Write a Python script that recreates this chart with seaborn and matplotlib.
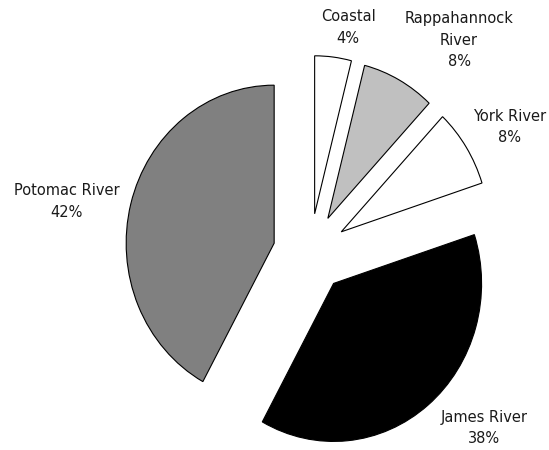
import matplotlib
matplotlib.use("Agg")
import matplotlib.pyplot as plt
import seaborn as sns

sns.set_theme(style="white")
plt.rcParams['font.family'] = ['DejaVu Sans']

categories = ["Coastal", "Rappahannock\nRiver", "York River", "James River", "Potomac River"]
shares = [4, 8, 8, 38, 42]
colors = ["#ffffff", "#c0c0c0", "#ffffff", "#000000", "#808080"]
explode = [0.25, 0.25, 0.25, 0.25, 0.25]
label_xy = [(0.257, 1.427), (1.007, 1.348), (1.351, 0.797), (1.176, -1.108), (-1.645, 0.326)]

fig = plt.figure(figsize=(5.49, 4.5), dpi=100)
ax = fig.add_axes([0, 0, 1, 1])
wedges, _ = ax.pie(shares, colors=colors, explode=explode, startangle=90,
                   counterclock=False,
                   wedgeprops=dict(edgecolor="black", linewidth=0.8))
for cat, val, (lx, ly) in zip(categories, shares, label_xy):
    ax.text(lx, ly, f"{cat}\n{val}%", ha="center", va="center",
            fontsize=10.5, color="#1a1a1a", linespacing=1.55)

ax.set_aspect("auto")
ax.set_xlim(-310 / 148, (549 - 310) / 148)
ax.set_ylim(-(450 - 253) / 158, 253 / 158)
ax.axis("off")
fig.savefig("out.png", dpi=100, facecolor="white")
